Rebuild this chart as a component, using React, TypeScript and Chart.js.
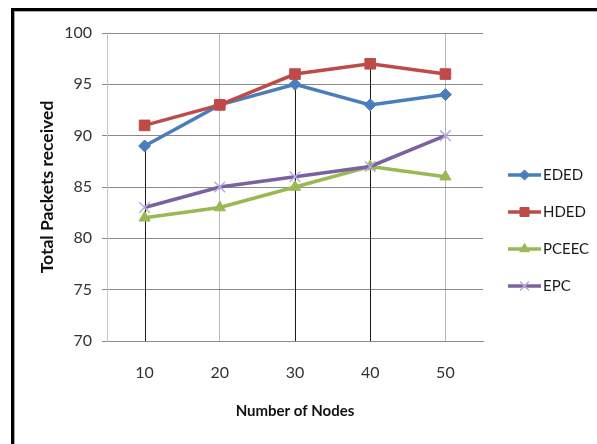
import { useEffect, useRef } from "react";
import { Chart, registerables } from "chart.js";
import { drawPoint } from "chart.js/helpers";

Chart.register(...registerables);

// Number of nodes on the horizontal axis
const nodeCounts = ["10", "20", "30", "40", "50"];

// Total packets received per protocol
const ededValues = [89, 93, 95, 93, 94];
const hdedValues = [91, 93, 96, 97, 96];
const pceecValues = [82, 83, 85, 87, 86];
const epcValues = [83, 85, 86, 87, 90];

// Value axis range
const yMin = 70;
const yMax = 100;
const yStep = 5;

// Dark vertical drop lines: value they start from (null = plain light gridline)
const dropLineTops: (number | null)[] = [89, null, 95, 97, null];

const FONT = "Lato, 'Open Sans', sans-serif";

const series = [
  { label: "EDED", data: ededValues, color: "#4a7ebb", marker: "#4a7ebb", style: "rectRot", radius: 6 },
  { label: "HDED", data: hdedValues, color: "#be4b48", marker: "#be4b48", style: "rect", radius: 7.5 },
  { label: "PCEEC", data: pceecValues, color: "#98b954", marker: "#98b954", style: "triangle", radius: 6.5 },
  { label: "EPC", data: epcValues, color: "#7d60a0", marker: "#b9a9dd", style: "crossRot", radius: 7.5 },
];

const dropLinesPlugin = {
  id: "dropLines",
  beforeDatasetsDraw(chart: any) {
    const { ctx, chartArea, scales } = chart;
    ctx.save();
    ctx.strokeStyle = "#1a1a1a";
    ctx.lineWidth = 1;
    dropLineTops.forEach((top, i) => {
      if (top == null) return;
      const x = Math.round(scales.x.getPixelForValue(i)) + 0.5;
      const y = scales.y.getPixelForValue(top);
      ctx.beginPath();
      ctx.moveTo(x, y);
      ctx.lineTo(x, chartArea.bottom);
      ctx.stroke();
    });
    ctx.restore();
  },
};

const sideLegendPlugin = {
  id: "sideLegend",
  afterDraw(chart: any) {
    const { ctx, chartArea } = chart;
    const x0 = chartArea.right + 25;
    const lineLen = 33;
    chart.data.datasets.forEach((ds: any, i: number) => {
      const y = chartArea.top + 142 + i * 37;
      ctx.save();
      ctx.strokeStyle = ds.borderColor;
      ctx.lineWidth = 3.5;
      ctx.beginPath();
      ctx.moveTo(x0, y);
      ctx.lineTo(x0 + lineLen, y);
      ctx.stroke();
      ctx.fillStyle = ds.pointBackgroundColor;
      ctx.strokeStyle = ds.pointBorderColor;
      ctx.lineWidth = ds.pointBorderWidth;
      drawPoint(
        ctx,
        { pointStyle: ds.pointStyle, radius: ds.pointRadius * 0.85, borderWidth: ds.pointBorderWidth, rotation: 0 } as any,
        x0 + lineLen / 2,
        y
      );
      ctx.fillStyle = "#1a1a1a";
      ctx.font = `15px ${FONT}`;
      ctx.textBaseline = "middle";
      ctx.textAlign = "left";
      ctx.fillText(ds.label, x0 + lineLen + 2, y);
      ctx.restore();
    });
  },
};

export default function App() {
  const canvasRef = useRef<HTMLCanvasElement | null>(null);

  useEffect(() => {
    if (!canvasRef.current) return;
    const chart = new Chart(canvasRef.current, {
      type: "line",
      data: {
        labels: nodeCounts,
        datasets: series.map((s, i) => ({
          label: s.label,
          data: s.data,
          borderColor: s.color,
          backgroundColor: s.color,
          borderWidth: 3.5,
          pointStyle: s.style,
          pointRadius: s.radius,
          pointBackgroundColor: s.marker,
          pointBorderColor: s.marker,
          pointBorderWidth: s.style === "crossRot" ? 1.5 : 1,
          tension: 0,
          order: series.length - i,
        })) as any,
      },
      options: {
        responsive: false,
        animation: false,
        devicePixelRatio: 1,
        layout: { padding: { top: 33, right: 114, left: 0, bottom: 0 } },
        plugins: {
          legend: { display: false },
          tooltip: { enabled: false },
        },
        scales: {
          x: {
            type: "category",
            offset: true,
            grid: {
              offset: false,
              drawTicks: false,
              color: (c: any) => (dropLineTops[c.index] == null ? "#b8b8b8" : "rgba(0,0,0,0)"),
            },
            border: { color: "#8a8a8a" },
            ticks: { padding: 22, color: "#333", font: { family: FONT, size: 16 } },
            title: {
              display: true,
              text: "Number of Nodes",
              color: "#111",
              font: { family: FONT, size: 15, weight: "bold" },
              padding: { top: 0, bottom: 24 },
            },
            afterFit: (s: any) => {
              s.height = 103;
            },
          },
          y: {
            min: yMin,
            max: yMax,
            ticks: { stepSize: yStep, padding: 10, color: "#333", font: { family: FONT, size: 16 } },
            grid: { color: "#8a8a8a", tickLength: 5 },
            border: { color: "#c4c4c4" },
            title: {
              display: true,
              text: "Total Packets received",
              color: "#111",
              font: { family: FONT, size: 17.5, weight: "bold" },
              padding: { top: 37, bottom: 0 },
            },
            afterFit: (s: any) => {
              s.width = 107;
            },
          },
        },
      },
      plugins: [dropLinesPlugin, sideLegendPlugin],
    });
    return () => chart.destroy();
  }, []);

  return (
    <div style={{ position: "fixed", left: 0, top: 0, width: 597, height: 444, background: "#fff", overflow: "hidden" }}>
      <div
        style={{
          position: "absolute",
          left: 11,
          top: 8,
          width: 640,
          height: 500,
          borderLeft: "3px solid #000",
          borderTop: "3px solid #000",
          boxShadow: "inset 1px 1px 0 #a8a8a8",
        }}
      />
      <canvas ref={canvasRef} width={597} height={444} style={{ position: "absolute", left: 0, top: 0 }} />
    </div>
  );
}
